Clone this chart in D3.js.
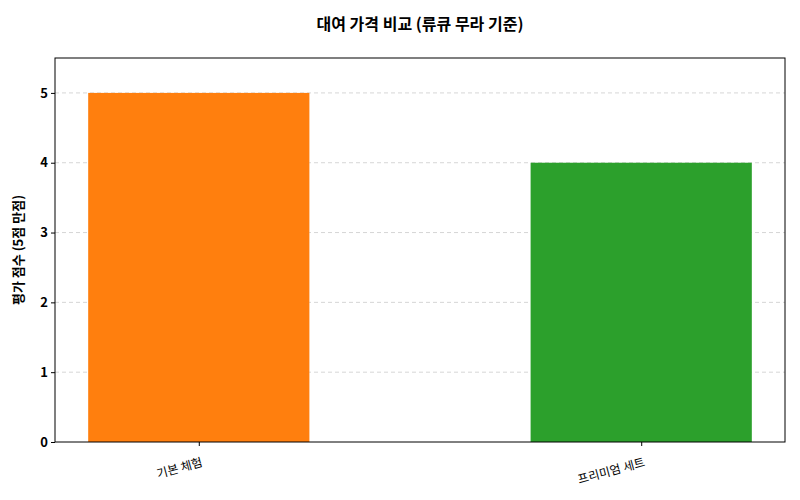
<!DOCTYPE html>
<html><head><meta charset="utf-8">
<script src="https://cdn.jsdelivr.net/npm/d3@7"></script>
<style>body{margin:0;background:#fff}text{font-family:"Noto Sans CJK KR","Noto Sans",sans-serif}</style>
</head><body><svg id="c" width="800" height="500"></svg>
<script>
const categories = ["기본 체험", "프리미엄 세트"];
const values = [5, 4];
const colors = ["#ff7f0e", "#2ca02c"];
const yTicks = [0, 1, 2, 3, 4, 5];

const svg = d3.select("#c");
const L = 55, R = 785, T = 58, B = 442;
const x = d3.scaleLinear().domain([-0.325, 1.325]).range([L, R]);
const y = d3.scaleLinear().domain([0, 5.5]).range([B, T]);

svg.append("g").selectAll("line").data(yTicks.slice(1)).join("line")
  .attr("x1", L).attr("x2", R).attr("y1", d => y(d)).attr("y2", d => y(d))
  .attr("stroke", "#cccccc").attr("stroke-dasharray", "4,3").attr("stroke-width", 0.8);

svg.append("g").selectAll("rect").data(values).join("rect")
  .attr("x", (d, i) => x(i - 0.25)).attr("width", x(0.25) - x(-0.25))
  .attr("y", d => y(d)).attr("height", d => B - y(d))
  .attr("fill", (d, i) => colors[i]);

svg.append("rect").attr("x", L).attr("y", T).attr("width", R - L).attr("height", B - T)
  .attr("fill", "none").attr("stroke", "#000").attr("stroke-width", 1);

const ya = svg.append("g").attr("transform", `translate(${L},0)`)
  .call(d3.axisLeft(y).tickValues(yTicks).tickSize(4).tickFormat(d3.format("d")));
ya.select(".domain").remove();
ya.selectAll("text").attr("font-size", 13).attr("font-weight", "bold").attr("fill", "#000");

const xa = svg.append("g").attr("transform", `translate(0,${B})`)
  .call(d3.axisBottom(x).tickValues([0, 1]).tickSize(4).tickFormat(i => categories[i]));
xa.select(".domain").remove();
xa.selectAll("text").attr("font-size", 12).attr("fill", "#000")
  .attr("text-anchor", "end").attr("dy", 0).attr("y", 0)
  .attr("transform", "translate(4,24) rotate(-15)");

svg.append("text").attr("x", 420).attr("y", 30).attr("text-anchor", "middle")
  .attr("font-size", 16).attr("font-weight", "bold").text("대여 가격 비교 (류큐 무라 기준)");
svg.append("text").attr("transform", `translate(23,${(T + B) / 2}) rotate(-90)`)
  .attr("text-anchor", "middle").attr("font-size", 13).attr("font-weight", "bold")
  .text("평가 점수 (5점 만점)");
</script></body></html>
